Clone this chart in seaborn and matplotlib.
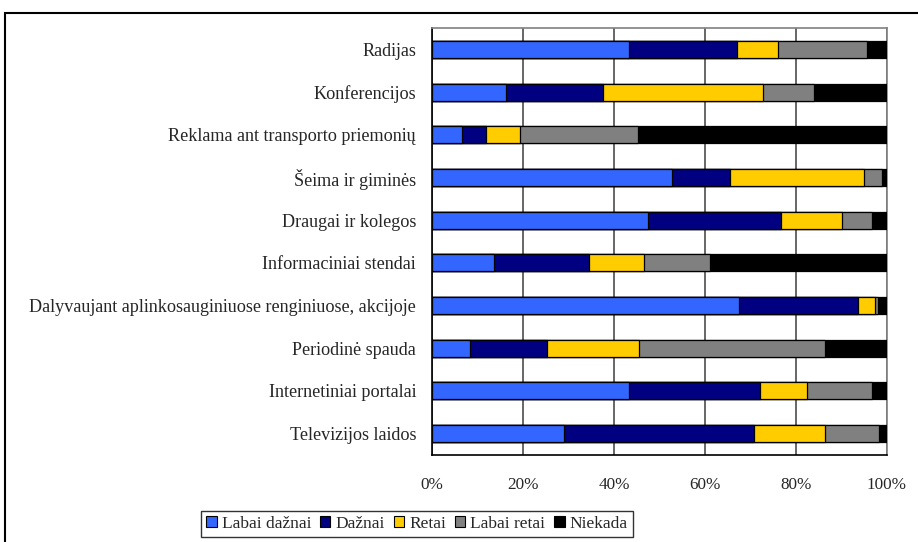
import numpy as np
import pandas as pd
import matplotlib
matplotlib.use("Agg")
import matplotlib.pyplot as plt
import matplotlib.patches as mpatches
import seaborn as sns

categories = ["Radijas", "Konferencijos", "Reklama ant transporto priemonių",
              "Šeima ir giminės", "Draugai ir kolegos", "Informaciniai stendai",
              "Dalyvaujant aplinkosauginiuose renginiuose, akcijoje",
              "Periodinė spauda", "Internetiniai portalai", "Televizijos laidos"]
labai_dazniai = [43.3, 16.3, 6.5, 52.7, 47.5, 13.6, 67.5, 8.4, 43.3, 29.0]
dazniai = [23.7, 21.3, 5.4, 12.8, 29.3, 21.0, 26.2, 16.8, 28.8, 41.7]
retai = [9.1, 35.1, 7.5, 29.4, 13.2, 12.0, 3.7, 20.3, 10.3, 15.7]
labai_retai = [19.4, 11.2, 25.9, 3.9, 6.7, 14.5, 0.7, 40.8, 14.2, 11.8]
niekada = [4.5, 16.1, 54.7, 1.2, 3.3, 38.9, 1.9, 13.7, 3.4, 1.8]

series = ["Labai dažnai", "Dažnai", "Retai", "Labai retai", "Niekada"]
colors = ["#3366FF", "#000080", "#FFCC00", "#808080", "#000000"]

df = pd.DataFrame({"Kategorija": categories, "Labai dažnai": labai_dazniai,
                   "Dažnai": dazniai, "Retai": retai, "Labai retai": labai_retai,
                   "Niekada": niekada})
cum = df[series].cumsum(axis=1)
cum = cum.div(cum["Niekada"], axis=0) * 100
cum["Kategorija"] = categories

sns.set_style("white")
plt.rcParams["font.family"] = ["Liberation Serif", "DejaVu Serif"]

fig = plt.figure(figsize=(9.18, 5.42), dpi=100)
ax = fig.add_axes([432 / 918, 1 - 455 / 542, 455 / 918, 427 / 542])

# draw cumulative bars back to front so they look stacked
for s, c in reversed(list(zip(series, colors))):
    sns.barplot(data=cum, x=s, y="Kategorija", orient="h", color=c,
                width=0.4, edgecolor="black", linewidth=0.9, ax=ax,
                saturation=1, zorder=3)

ax.set_xlim(0, 100)
ax.set_ylim(9.5, -0.5)
ax.set_xticks([0, 20, 40, 60, 80, 100])
ax.set_xticklabels(["0%", "20%", "40%", "60%", "80%", "100%"], fontsize=12.3)
ax.set_xlabel("")
ax.set_ylabel("")
ax.set_yticks(range(len(categories)))
ax.set_yticklabels(categories, fontsize=13.1)
ax.tick_params(axis="y", length=0, pad=11.5)
ax.set_yticks(np.arange(-0.5, 10, 1), minor=True)
ax.tick_params(axis="y", which="minor", length=4, color="black", direction="out")
ax.tick_params(axis="x", length=4, color="black", direction="out", pad=12)
ax.xaxis.grid(True, color="#4d4d4d", linewidth=1.2, zorder=0)
ax.set_axisbelow(True)
for side in ["top", "right"]:
    ax.spines[side].set_color("#808080")
    ax.spines[side].set_linewidth(1.2)
for side in ["left", "bottom"]:
    ax.spines[side].set_color("black")
    ax.spines[side].set_linewidth(1.2)

handles = [mpatches.Patch(facecolor=c, edgecolor="black", linewidth=0.8, label=s)
           for s, c in zip(series, colors)]
leg = fig.legend(handles=handles, loc="center", bbox_to_anchor=(417 / 918, 1 - 524 / 542),
                 ncol=5, fontsize=12.5, frameon=True, fancybox=False,
                 handlelength=0.6, handleheight=0.6, handletextpad=0.3,
                 columnspacing=0.5, borderpad=0.3)
leg.get_frame().set_edgecolor("black")
leg.get_frame().set_linewidth(1.0)

border = mpatches.Rectangle((5 / 918, -0.1), 2, 1 - 13 / 542 + 0.1,
                            transform=fig.transFigure, fill=False,
                            edgecolor="black", linewidth=1.5)
fig.patches.append(border)

fig.savefig("out.png", dpi=100)
